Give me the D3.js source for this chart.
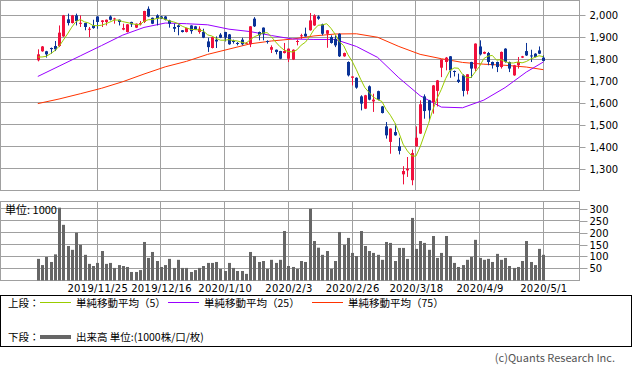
<!DOCTYPE html>
<html>
<head>
<meta charset="utf-8">
<script src="https://cdn.jsdelivr.net/npm/d3@7"></script>
<style>
body { margin: 0; background: #fff; }
text { font-family: "Noto Sans CJK JP", "Noto Sans", sans-serif; }
</style>
</head>
<body>
<svg id="chart" width="633" height="373"></svg>
<script>
// trading days shown
var dates = [
  "2019/11/5","2019/11/6","2019/11/7","2019/11/8","2019/11/11","2019/11/12","2019/11/13","2019/11/14","2019/11/15","2019/11/18",
  "2019/11/19","2019/11/20","2019/11/21","2019/11/22","2019/11/25","2019/11/26","2019/11/27","2019/11/28","2019/11/29","2019/12/2",
  "2019/12/3","2019/12/4","2019/12/5","2019/12/6","2019/12/9","2019/12/10","2019/12/11","2019/12/12","2019/12/13","2019/12/16",
  "2019/12/17","2019/12/18","2019/12/19","2019/12/20","2019/12/23","2019/12/24","2019/12/25","2019/12/26","2019/12/27","2019/12/30",
  "2020/1/6","2020/1/7","2020/1/8","2020/1/9","2020/1/10","2020/1/14","2020/1/15","2020/1/16","2020/1/17","2020/1/20",
  "2020/1/21","2020/1/22","2020/1/23","2020/1/24","2020/1/27","2020/1/28","2020/1/29","2020/1/30","2020/1/31","2020/2/3",
  "2020/2/4","2020/2/5","2020/2/6","2020/2/7","2020/2/10","2020/2/12","2020/2/13","2020/2/14","2020/2/17","2020/2/18",
  "2020/2/19","2020/2/20","2020/2/21","2020/2/25","2020/2/26","2020/2/27","2020/2/28","2020/3/2","2020/3/3","2020/3/4",
  "2020/3/5","2020/3/6","2020/3/9","2020/3/10","2020/3/11","2020/3/12","2020/3/13","2020/3/16","2020/3/17","2020/3/18",
  "2020/3/19","2020/3/23","2020/3/24","2020/3/25","2020/3/26","2020/3/27","2020/3/30","2020/3/31","2020/4/1","2020/4/2",
  "2020/4/3","2020/4/6","2020/4/7","2020/4/8","2020/4/9","2020/4/10","2020/4/13","2020/4/14","2020/4/15","2020/4/16",
  "2020/4/17","2020/4/20","2020/4/21","2020/4/22","2020/4/23","2020/4/24","2020/4/27","2020/4/28","2020/4/30","2020/5/1"
];

var opens = [
  1795,1836,1836,1851,1860,1860,1904,1982,1965,2000,
  1964,1965,1936,1954,1995,1970,1970,1995,1983,1980,
  1935,1924,1970,1944,1959,1970,2030,1989,2000,1995,
  1995,1977,1947,1954,1932,1924,1954,1950,1924,1924,
  1881,1851,1889,1912,1924,1913,1883,1874,1889,1872,
  1868,1985,1924,1944,1883,1843,1843,1837,1828,1802,
  1798,1880,1906,1916,1932,1954,1995,1959,1916,1901,
  1893,1916,1813,1787,1715,1715,1630,1574,1676,1607,
  1654,1584,1493,1422,1467,1402,1274,1292,1247,1402,
  1460,1630,1612,1604,1655,1761,1787,1813,1746,1706,
  1726,1655,1787,1757,1858,1825,1828,1787,1787,1764,
  1848,1787,1726,1772,1807,1837,1817,1825,1840,1807
];
var highs = [
  1845,1860,1838,1853,1883,1954,2002,2008,2002,2008,
  2000,1966,1947,1980,1996,1978,1981,2000,1989,1981,
  1962,1960,1971,1963,1974,2021,2041,1990,2005,1997,
  1997,1980,1962,1959,1933,1944,1955,1952,1950,1939,
  1898,1903,1904,1919,1925,1915,1889,1878,1898,1878,
  1951,1992,1926,1945,1886,1863,1844,1838,1874,1849,
  1845,1889,1916,1944,2011,2005,2000,1962,1933,1909,
  1909,1918,1830,1790,1722,1717,1635,1637,1680,1642,
  1656,1586,1513,1484,1505,1441,1311,1353,1387,1493,
  1612,1639,1614,1682,1705,1800,1810,1814,1748,1734,
  1731,1732,1788,1872,1886,1835,1833,1789,1789,1835,
  1850,1789,1774,1810,1815,1874,1843,1827,1858,1817
];
var lows = [
  1790,1834,1807,1825,1837,1855,1902,1954,1963,1954,
  1947,1932,1901,1939,1939,1947,1954,1977,1962,1954,
  1932,1922,1947,1942,1954,1965,1992,1960,1954,1983,
  1977,1944,1924,1909,1922,1922,1916,1933,1916,1896,
  1833,1849,1851,1896,1881,1866,1871,1863,1863,1869,
  1855,1947,1886,1886,1871,1828,1822,1800,1826,1787,
  1796,1863,1893,1903,1930,1952,1980,1909,1852,1871,
  1855,1810,1811,1721,1680,1665,1566,1572,1612,1559,
  1612,1552,1437,1368,1450,1365,1228,1262,1224,1400,
  1458,1528,1523,1551,1584,1718,1749,1715,1721,1691,
  1630,1639,1715,1746,1817,1823,1772,1757,1741,1757,
  1784,1741,1724,1757,1805,1815,1787,1808,1823,1790
];
var closes = [
  1822,1858,1822,1846,1845,1921,2000,1965,2000,1974,
  1966,1947,1939,1942,1970,1977,1980,1980,1986,1970,
  1942,1959,1959,1962,1965,2020,1995,1962,1985,1985,
  1980,1962,1939,1947,1924,1942,1928,1935,1939,1898,
  1855,1901,1881,1898,1898,1868,1880,1871,1868,1875,
  1950,1950,1909,1916,1880,1855,1833,1802,1837,1848,
  1843,1883,1909,1904,1977,2000,1985,1916,1932,1874,
  1863,1813,1828,1726,1721,1670,1597,1635,1615,1615,
  1615,1554,1452,1483,1452,1381,1289,1300,1371,1441,
  1594,1563,1566,1680,1703,1798,1807,1749,1743,1696,
  1655,1731,1757,1871,1822,1833,1787,1772,1764,1833,
  1787,1757,1772,1787,1813,1817,1813,1810,1825,1792
];
// closes of the 4 days before the first candle (for the 5-day average)
var priorCloses = [1858, 1807, 1786, 1777];

// volume, 1000 shares
var volumes = [
  90,64,98,77,109,305,233,144,128,200,
  149,107,69,60,73,123,69,73,52,64,
  60,56,35,35,43,161,94,119,81,56,
  64,90,52,86,52,52,35,43,52,60,
  73,73,77,48,39,73,52,39,39,27,
  119,102,77,81,48,86,73,86,207,60,
  56,48,81,77,300,165,137,107,123,48,
  81,203,149,178,115,102,207,144,123,115,
  107,86,161,157,81,136,136,90,262,132,
  165,157,128,186,94,115,186,102,73,56,
  64,86,98,170,94,86,90,77,111,86,
  94,60,52,56,81,165,77,64,132,107
];

// 25 / 75 day averages at these candles
var maDays = [0,5,10,15,20,25,30,35,40,45,50,55,60,65,70,75,80,85,90,95,100,105,110,115,119];
var ma25 = [1721,1768,1815,1862,1910,1945,1965,1962,1957,1937,1926,1908,1892,1890,1890,1858,1808,1715,1633,1581,1578,1613,1670,1741,1787];
var ma75 = [1597,1618,1642,1667,1697,1732,1765,1790,1822,1846,1870,1883,1892,1906,1915,1916,1900,1858,1822,1802,1785,1777,1772,1764,1752];

var dateTicks = ["2019/11/25","2019/12/16","2020/1/10","2020/2/3","2020/2/26","2020/3/18","2020/4/9","2020/5/1"];
var priceTicks = [1300,1400,1500,1600,1700,1800,1900,2000];
var volTicks = [50,100,150,200,250,300];

var upColor = "#f0103c", downColor = "#0a3296";
var gridColor = "#a0a0a0";

var svg = d3.select("#chart");

// panels
var main = {left: 0.5, right: 579.5, top: 0.5, bottom: 190.5};
var vol = {left: 0.5, right: 579.5, top: 201.5, bottom: 280.5};

var x = d3.scalePoint().domain(dates).range([37.8, 543.3]);
var y = d3.scaleLinear().domain([1200, 2068]).range([main.bottom, main.top]);
var yv = d3.scaleLinear().domain([0, 331]).range([vol.bottom - 0.2, vol.top]);

function px(v) { return Math.floor(v) + 0.5; }

// gridlines
[main, vol].forEach(function(p, k) {
  var g = svg.append("g").attr("stroke", gridColor).attr("stroke-width", 1);
  g.selectAll(".v").data(dateTicks).enter().append("line")
    .attr("x1", function(d) { return px(x(d)); })
    .attr("x2", function(d) { return px(x(d)); })
    .attr("y1", p.top).attr("y2", p.bottom);
  var sc = k == 0 ? y : yv;
  var tk = k == 0 ? priceTicks : volTicks;
  g.selectAll(".h").data(tk).enter().append("line")
    .attr("x1", p.left).attr("x2", p.right)
    .attr("y1", function(d) { return px(sc(d)); })
    .attr("y2", function(d) { return px(sc(d)); });
  g.append("rect")
    .attr("x", p.left).attr("y", p.top)
    .attr("width", p.right - p.left).attr("height", p.bottom - p.top)
    .attr("fill", "none");
});

// volume bars
svg.append("g").selectAll("rect")
  .data(volumes)
  .enter()
  .append("rect")
  .attr("x", function(d, i) { return Math.round(x(dates[i])) - 1; })
  .attr("width", 3)
  .attr("y", function(d) { return yv(d); })
  .attr("height", function(d) { return vol.bottom - yv(d); })
  .attr("fill", "#666666");

// moving averages
var allCloses = priorCloses.concat(closes);
var ma5 = closes.map(function(c, i) { return d3.mean(allCloses.slice(i, i + 5)); });

var line = d3.line()
  .x(function(d) { return x(dates[d[0]]); })
  .y(function(d) { return y(d[1]); });

svg.append("path")
  .datum(maDays.map(function(d, i) { return [d, ma75[i]]; }))
  .attr("d", line).attr("fill", "none").attr("stroke", "#ff3300").attr("stroke-width", 1);
svg.append("path")
  .datum(maDays.map(function(d, i) { return [d, ma25[i]]; }))
  .attr("d", line).attr("fill", "none").attr("stroke", "#9900ff").attr("stroke-width", 1);

// candles
var candles = svg.append("g").selectAll("g")
  .data(dates)
  .enter()
  .append("g");
candles.append("line")
  .attr("x1", function(d) { return Math.round(x(d)) + 0.5; })
  .attr("x2", function(d) { return Math.round(x(d)) + 0.5; })
  .attr("y1", function(d, i) { return y(highs[i]); })
  .attr("y2", function(d, i) { return y(lows[i]); })
  .attr("stroke", function(d, i) { return closes[i] >= opens[i] ? upColor : downColor; });
candles.append("rect")
  .attr("x", function(d) { return Math.round(x(d)) - 1; })
  .attr("width", 3)
  .attr("y", function(d, i) { return y(Math.max(opens[i], closes[i])); })
  .attr("height", function(d, i) { return Math.max(1, Math.abs(y(opens[i]) - y(closes[i]))); })
  .attr("fill", function(d, i) { return closes[i] >= opens[i] ? upColor : downColor; });

svg.append("path")
  .datum(ma5.map(function(v, i) { return [i, v]; }))
  .attr("d", line).attr("fill", "none").attr("stroke", "#99cc00").attr("stroke-width", 1);

// axes
var yAxis = svg.append("g")
  .attr("transform", "translate(" + main.right + ",0)")
  .call(d3.axisRight(y).tickValues(priceTicks).tickFormat(d3.format(",")).tickSize(6).tickPadding(4));
var vAxis = svg.append("g")
  .attr("transform", "translate(" + vol.right + ",0)")
  .call(d3.axisRight(yv).tickValues(volTicks).tickSize(8).tickPadding(2));
var xAxis = svg.append("g")
  .attr("transform", "translate(0," + vol.bottom + ")")
  .call(d3.axisBottom(x).tickValues(dateTicks).tickSize(0).tickPadding(4));
[yAxis, vAxis, xAxis].forEach(function(a) {
  a.select(".domain").remove();
  a.selectAll(".tick line").attr("stroke", gridColor)
    .attr("transform", function() { return "translate(0,0)"; });
  a.selectAll("text").attr("font-size", 10).attr("fill", "#000")
    .style("font-family", "'DejaVu Sans', sans-serif");
});
// keep tick marks on the pixel grid
[yAxis, vAxis].forEach(function(a) {
  a.selectAll(".tick").attr("transform", function() {
    var t = d3.select(this).attr("transform").match(/translate\(([^,]+),([^)]+)\)/);
    return "translate(0," + px(+t[2]) + ")";
  });
});
xAxis.selectAll("text").style("letter-spacing", "0.3px");

svg.append("text")
  .attr("x", 5).attr("y", 210).attr("dy", "0.35em")
  .attr("font-size", 11)
  .text("単位: 1000");

// legend
var leg = svg.append("g");
leg.append("rect")
  .attr("x", 0.5).attr("y", 295.5).attr("width", 631).attr("height", 51)
  .attr("fill", "none").attr("stroke", "#000");

var legendItems = [
  {x: 40, color: "#99cc00", label: "単純移動平均（5）"},
  {x: 168, color: "#9900ff", label: "単純移動平均（25）"},
  {x: 312, color: "#ff3300", label: "単純移動平均（75）"}
];
leg.append("text").attr("x", 8).attr("y", 303).attr("dy", "0.35em").attr("font-size", 10.5).text("上段：");
legendItems.forEach(function(d) {
  leg.append("line").attr("x1", d.x).attr("x2", d.x + 31).attr("y1", 302.5).attr("y2", 302.5)
    .attr("stroke", d.color).attr("stroke-width", 1);
  leg.append("text").attr("x", d.x + 36).attr("y", 303).attr("dy", "0.35em").attr("font-size", 10.5).text(d.label);
});
leg.append("text").attr("x", 8).attr("y", 337).attr("dy", "0.35em").attr("font-size", 10.5).text("下段：");
leg.append("line").attr("x1", 40).attr("x2", 71).attr("y1", 337).attr("y2", 337)
  .attr("stroke", "#666666").attr("stroke-width", 4);
leg.append("text").attr("x", 76).attr("y", 337).attr("dy", "0.35em").attr("font-size", 10.5).text("出来高 単位:(1000株/口/枚)");

svg.append("text")
  .attr("x", 615).attr("y", 358).attr("dy", "0.35em")
  .attr("text-anchor", "end").attr("font-size", 11).attr("fill", "#555")
  .text("(c)Quants Research Inc.");
</script>
</body>
</html>
